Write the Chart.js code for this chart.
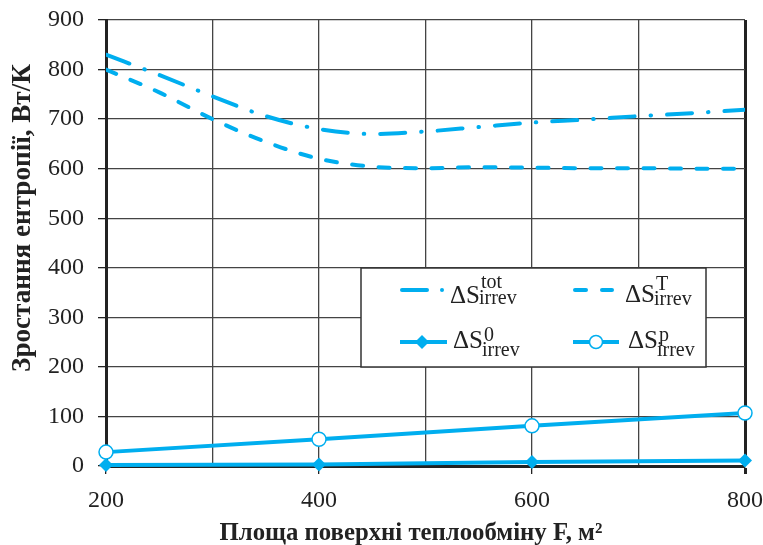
<!DOCTYPE html>
<html><head><meta charset="utf-8">
<script src="https://cdn.jsdelivr.net/npm/chart.js@4.4.0/dist/chart.umd.min.js"></script>
<style>html,body{margin:0;padding:0;background:#fff;} #wrap{position:relative;width:763px;height:545px;}</style>
</head><body><div id="wrap"><canvas id="c" width="763" height="545"></canvas></div>
<script>
// Data
const areaFine = [200,250,300,350,400,450,500,550,600,650,700,750,800];
const sTot = [830,789,746,706,680,670,675,684,693,699,706,712,719];
const sT   = [800,754,700,654,620,604,601,603,602,601,601,600,600];
const areaCoarse = [200,400,600,800];
const s0 = [2,3,8,11];
const sP = [28,54,81,107];
const xTickLabels = [200,400,600,800];
const yTicks = [0,100,200,300,400,500,600,700,800,900];
const yTitle = 'Зростання ентропії, Вт/К';
const xTitle = 'Площа поверхні теплообміну F, м²';
const legendItems = [
  {sup:'tot', sub:'irrev'},
  {sup:'T', sub:'irrev'},
  {sup:'0', sub:'irrev'},
  {sup:'p', sub:'irrev'}
];

const C = '#00AEEF';
const SERIF = '"Liberation Serif", "Times New Roman", serif';
const pts = (xs, ys) => xs.map((x,i)=>({x, y: ys[i]}));

function fitFont(ctx, text, weight, target){
  ctx.font = weight + ' 20px ' + SERIF;
  const w = ctx.measureText(text).width;
  return 20 * target / w;
}

const decor = {
  id:'decor',
  afterDraw(chart){
    const ctx = chart.ctx;
    ctx.save();
    ctx.fillStyle = '#222';
    let fs = fitFont(ctx, xTitle, 'bold', 383);
    ctx.font = 'bold ' + fs + 'px ' + SERIF;
    ctx.textAlign = 'center';
    ctx.textBaseline = 'alphabetic';
    ctx.fillText(xTitle, 411, 540);
    fs = fitFont(ctx, yTitle, 'bold', 308);
    ctx.font = 'bold ' + fs + 'px ' + SERIF;
    ctx.translate(30, 218);
    ctx.rotate(-Math.PI/2);
    ctx.fillText(yTitle, 0, 0);
    ctx.restore();

    // legend box
    ctx.save();
    ctx.fillStyle = '#fff';
    ctx.fillRect(361, 268, 345, 99);
    ctx.strokeStyle = '#333';
    ctx.lineWidth = 1.5;
    ctx.strokeRect(361, 268, 345, 99);

    ctx.strokeStyle = C;
    ctx.fillStyle = C;
    ctx.lineWidth = 4;
    ctx.lineCap = 'round';
    ctx.beginPath(); ctx.moveTo(402,290); ctx.lineTo(427,290); ctx.stroke();
    ctx.beginPath(); ctx.arc(442,290,2,0,Math.PI*2); ctx.fill();
    ctx.beginPath(); ctx.moveTo(575,290); ctx.lineTo(586,290); ctx.stroke();
    ctx.beginPath(); ctx.moveTo(602,290); ctx.lineTo(612,290); ctx.stroke();
    ctx.lineCap = 'butt';
    ctx.beginPath(); ctx.moveTo(400,342); ctx.lineTo(447,342); ctx.stroke();
    ctx.beginPath(); ctx.moveTo(422,335); ctx.lineTo(429,342); ctx.lineTo(422,349); ctx.lineTo(415,342); ctx.closePath(); ctx.fill();
    ctx.beginPath(); ctx.moveTo(573,342); ctx.lineTo(619,342); ctx.stroke();
    ctx.beginPath(); ctx.arc(596,342,6.5,0,Math.PI*2); ctx.fillStyle='#fff'; ctx.fill();
    ctx.lineWidth = 1.5; ctx.strokeStyle = C; ctx.stroke();

    ctx.fillStyle = '#222';
    ctx.textAlign = 'left';
    ctx.textBaseline = 'alphabetic';
    const pos = [
      {x:450, base:303, supBase:288, subBase:304},
      {x:625, base:302, supBase:290, subBase:305},
      {x:453, base:348, supBase:341, subBase:356},
      {x:628, base:348, supBase:341, subBase:356}
    ];
    legendItems.forEach((it,i)=>{
      const p = pos[i];
      ctx.font = '25px ' + SERIF;
      ctx.fillText('ΔS', p.x, p.base);
      const w = ctx.measureText('ΔS').width;
      ctx.font = '20px ' + SERIF;
      ctx.fillText(it.sup, p.x + w + 1, p.supBase);
      ctx.fillText(it.sub, p.x + w - 1, p.subBase);
    });
    ctx.restore();
  }
};

new Chart(document.getElementById('c'), {
  type:'line',
  data:{datasets:[
    {label:'tot', data: pts(areaFine, sTot), borderColor:C, borderWidth:4,
     borderDash:[25,16,0.5,16], borderCapStyle:'round', pointRadius:0,
     cubicInterpolationMode:'monotone', fill:false},
    {label:'T', data: pts(areaFine, sT), borderColor:C, borderWidth:4,
     borderDash:[11,15.5], borderCapStyle:'round', pointRadius:0,
     cubicInterpolationMode:'monotone', fill:false},
    {label:'p', data: pts(areaCoarse, sP), borderColor:C, borderWidth:4,
     pointStyle:'circle', pointRadius:7, pointBackgroundColor:'#fff',
     pointBorderColor:C, pointBorderWidth:1.5, tension:0, fill:false, clip:false},
    {label:'0', data: pts(areaCoarse, s0), borderColor:C, borderWidth:4,
     pointStyle:'rectRot', pointRadius:7, pointBackgroundColor:C,
     pointBorderColor:C, pointBorderWidth:0, tension:0, fill:false, clip:false}
  ]},
  options:{
    responsive:false, animation:false, devicePixelRatio:1,
    layout:{padding:{left:0,right:18,top:20,bottom:0}},
    plugins:{legend:{display:false}, tooltip:{enabled:false}},
    scales:{
      x:{type:'linear', min:200, max:800,
        afterFit(s){ s.height = 79; s.paddingLeft = 0; s.paddingRight = 0; },
        ticks:{stepSize:100, autoSkip:false, maxRotation:0,
          callback:(v)=> xTickLabels.includes(v) ? String(v) : '',
          font:{family:SERIF, size:24}, color:'#222', padding:12},
        grid:{color:(c)=> c.tick && c.tick.value===800 ? '#222' : '#444',
          lineWidth:(c)=> c.tick && c.tick.value===800 ? 3 : 1.3,
          tickLength:8,
          tickColor:(c)=> c.tick && xTickLabels.includes(c.tick.value) ? '#222' : 'rgba(0,0,0,0)'},
        border:{display:true, color:'#222', width:3}
      },
      y:{min:0, max:900,
        afterFit(s){ s.width = 106; s.paddingTop = 0; s.paddingBottom = 0; },
        afterBuildTicks(s){ s.ticks = yTicks.map(v=>({value:v})); },
        ticks:{font:{family:SERIF, size:24}, color:'#222', padding:14},
        grid:{color:'#444', lineWidth:1.3, tickLength:8, tickColor:'#222'},
        border:{display:true, color:'#222', width:3}
      }
    }
  },
  plugins:[decor]
});
</script>
</body></html>
